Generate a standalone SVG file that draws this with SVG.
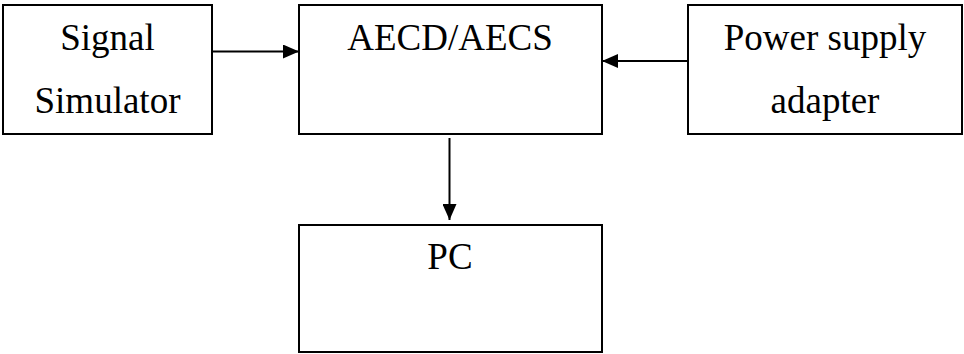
<svg xmlns="http://www.w3.org/2000/svg" width="964" height="354" viewBox="0 0 964 354">
<style>
.box{fill:#fff;stroke:#000;stroke-width:2}
.t{font-family:'Liberation Serif','Times New Roman',Times,'DejaVu Serif',serif;font-size:37px;fill:#000;text-anchor:middle}
.c{stroke:#000;stroke-width:2;fill:none}
</style>
<defs>
<marker id="ah" markerWidth="16" markerHeight="14" refX="16" refY="7" orient="auto" markerUnits="userSpaceOnUse">
<path d="M0,0 L16,7 L0,14 Z" fill="#000"/>
</marker>
</defs>
<rect width="964" height="354" fill="#fff"/>
<g id="signal">
<rect class="box" x="3" y="5" width="209" height="129"/>
<text class="t" x="107.5" y="50" font-family="Liberation Serif, serif">Signal</text>
<text class="t" x="107.5" y="113" font-family="Liberation Serif, serif">Simulator</text>
</g>
<g id="aecd">
<rect class="box" x="299" y="5" width="303" height="129"/>
<text class="t" x="450" y="50" font-family="Liberation Serif, serif">AECD/AECS</text>
</g>
<g id="power">
<rect class="box" x="688" y="5" width="274" height="129"/>
<text class="t" x="825" y="50" font-family="Liberation Serif, serif">Power supply</text>
<text class="t" x="825" y="113" font-family="Liberation Serif, serif">adapter</text>
</g>
<g id="pc">
<rect class="box" x="299" y="225" width="303" height="127"/>
<text class="t" x="450" y="269" font-family="Liberation Serif, serif">PC</text>
</g>
<g id="connectors">
<line class="c" x1="212" y1="51.5" x2="299" y2="51.5" marker-end="url(#ah)"/>
<line class="c" x1="688" y1="61" x2="602" y2="61" marker-end="url(#ah)"/>
<line class="c" x1="449.5" y1="138" x2="449.5" y2="220" marker-end="url(#ah)"/>
</g>
</svg>
